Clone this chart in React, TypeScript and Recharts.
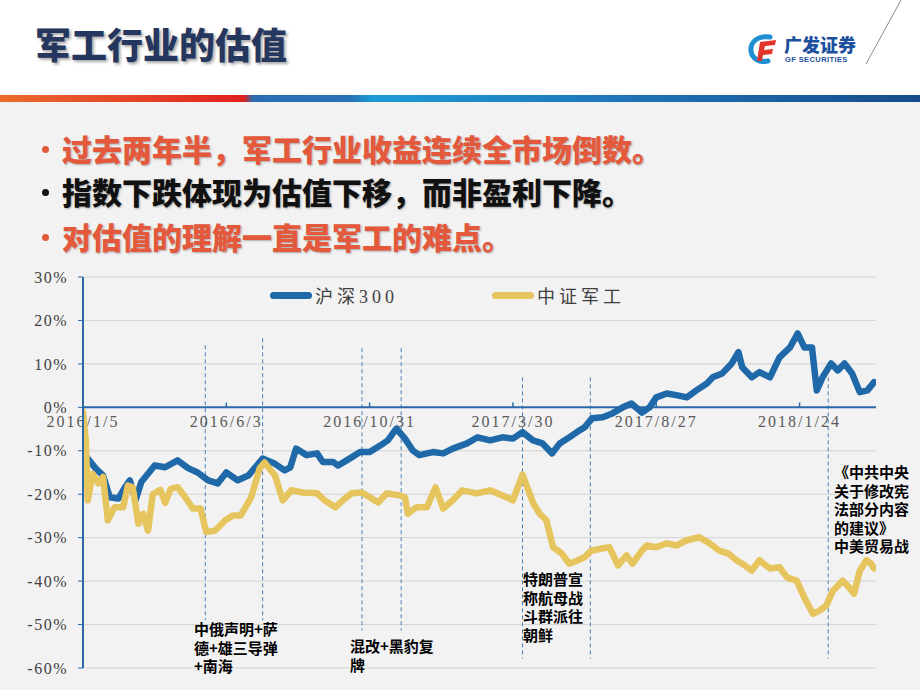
import React from "react";
import {
  LineChart,
  Line,
  XAxis,
  YAxis,
  CartesianGrid,
  ReferenceLine,
  Legend,
} from "recharts";

// days counted from 2016/1/5, values in %
const hs300Days = [0, 2, 13, 21, 28, 37, 44, 49, 55, 61, 75, 86, 99, 110, 120, 131, 141, 150, 162, 173, 188, 201, 211, 217, 223, 234, 245, 251, 262, 267, 279, 290, 300, 311, 319, 328, 337, 345, 352, 366, 377, 387, 402, 413, 426, 439, 450, 460, 471, 481, 491, 499, 507, 517, 525, 533, 544, 554, 565, 574, 585, 593, 600, 611, 621, 632, 642, 653, 659, 669, 679, 686, 690, 700, 708, 719, 729, 740, 748, 755, 763, 768, 774, 783, 790, 797, 805, 813, 821, 828];
const hs300Values = [-2, -11, -14, -15.7, -20.7, -21, -18.4, -16.8, -21.4, -17.2, -13.4, -13.8, -12.2, -14, -15, -16.8, -17.5, -15, -16.8, -15.7, -11.8, -13, -14.5, -13.8, -9.5, -11, -10.6, -12.6, -12.6, -13.4, -11.8, -10.3, -10.3, -8.8, -7.6, -4.9, -7.2, -9.9, -11, -10.3, -10.6, -9.5, -8.3, -6.9, -7.6, -6.9, -7.2, -5.7, -7.6, -8.3, -10.6, -8.3, -7.2, -5.7, -4.6, -2.5, -2.3, -1.4, 0, 0.9, -1.2, 0, 2.3, 3.2, 2.8, 2.3, 3.9, 5.5, 6.9, 7.8, 10.1, 12.7, 9.2, 6.9, 8.1, 6.9, 11.5, 13.8, 17, 13.8, 13.8, 3.9, 6.9, 10.1, 8.5, 10.1, 7.8, 3.5, 3.9, 5.8];

const jgDays = [0, 3, 5, 10, 16, 21, 26, 33, 42, 47, 52, 58, 63, 68, 73, 81, 86, 92, 99, 107, 115, 123, 129, 138, 149, 157, 165, 176, 185, 190, 201, 209, 218, 230, 245, 253, 264, 272, 281, 292, 300, 309, 318, 332, 337, 340, 349, 360, 369, 377, 387, 397, 412, 426, 439, 450, 460, 465, 471, 478, 485, 492, 501, 509, 518, 525, 532, 543, 551, 560, 569, 575, 585, 590, 600, 611, 621, 632, 645, 656, 666, 675, 684, 690, 700, 708, 719, 729, 737, 747, 755, 764, 771, 778, 785, 795, 802, 807, 813, 820, 825, 828];
const jgValues = [-1, -8, -21.4, -15.3, -17.5, -16, -26, -23, -23, -18, -18.4, -26.8, -24.5, -28.4, -20, -19, -22, -18.7, -18.4, -20.7, -23.3, -23.3, -28.7, -28.4, -26, -24.9, -24.9, -20.7, -14, -12.7, -15.7, -21.4, -19.1, -19.6, -19.8, -21.4, -23, -21.4, -19.8, -19.6, -20.7, -21.9, -19.8, -20.3, -20.7, -24.5, -23, -23, -18.4, -23.3, -21.4, -19.1, -19.8, -19.1, -20.3, -21.4, -15.5, -18.4, -22, -24.5, -26, -32.2, -33.6, -36, -35.2, -34.5, -33, -32.5, -32.2, -36.4, -34.1, -36, -33, -31.8, -32.2, -31.3, -31.8, -30.6, -29.9, -31.3, -33, -33.6, -35.2, -36, -37.6, -35.2, -37.1, -36.8, -39.2, -39.9, -43.8, -47.5, -46.8, -45.6, -42.2, -39.9, -41.5, -42.9, -37.6, -35.2, -36, -37.1];

const seriesNames = ["沪深300", "中证军工"];
const yTicks = [-60, -50, -40, -30, -20, -10, 0, 10, 20, 30];
const xTickDays = [0, 150, 300, 450, 600, 750];

// event marker lines: day, top %, bottom %
const eventDays = [128, 188, 292, 333, 460, 531, 780];
const eventTop = [14.3, 15.9, 13.6, 13.6, 6.9, 6.9, 6.9];
const eventBottom = [-49, -49, -51.4, -51.4, -57.8, -57.8, -57.8];

const eventNotes = [
  ["中俄声明+萨", "德+雄三导弹", "+南海"],
  ["混改+黑豹复", "牌"],
  ["特朗普宣", "称航母战", "斗群派往", "朝鲜"],
  ["《中共中央", "关于修改宪", "法部分内容", "的建议》", "中美贸易战"],
];

const bullets = [
  "过去两年半，军工行业收益连续全市场倒数。",
  "指数下跌体现为估值下移，而非盈利下降。",
  "对估值的理解一直是军工的难点。",
];

const hs300Data = hs300Days.map((d, i) => ({ day: d, v: hs300Values[i] }));
const jgData = jgDays.map((d, i) => ({ day: d, v: jgValues[i] }));

const BLUE = "#1f69a9";
const GOLD = "#e6c55f";
const AXIS = "#2b6aa6";
const RED = "#e4583b";
const CJK = "'Noto Sans CJK SC', 'Noto Sans', sans-serif";
const SERIF = "'Liberation Serif', 'Noto Sans CJK SC', serif";

function dayLabel(d: number) {
  const dt = new Date(2016, 0, 5 + d);
  return `${dt.getFullYear()}/${dt.getMonth() + 1}/${dt.getDate()}`;
}

const XTickLabel = ({ viewBox, value }: any) => {
  const { x, y, width, height } = viewBox;
  return (
    <text
      x={x + width / 2}
      y={y + height + 20}
      textAnchor="middle"
      fill="#595959"
      fontSize={16}
      fontFamily={SERIF}
      letterSpacing={2}
    >
      {value}
    </text>
  );
};

const renderLegend = (props: any) => {
  const items = [...(props.payload || [])].sort(
    (a: any, b: any) => seriesNames.indexOf(a.value) - seriesNames.indexOf(b.value)
  );
  return (
    <div style={{ display: "flex", alignItems: "center", fontFamily: SERIF, fontSize: 18, color: "#404040" }}>
      {items.map((p: any, i: number) => (
        <div key={i} style={{ display: "flex", alignItems: "center", width: i === 0 ? 222 : "auto" }}>
          <span style={{ display: "inline-block", width: 42, height: 7, borderRadius: 4, background: p.color, marginRight: 3 }} />
          <span style={{ letterSpacing: 4 }}>{p.value}</span>
        </div>
      ))}
    </div>
  );
};

const notePos = [
  { left: 194, top: 620 },
  { left: 350, top: 637 },
  { left: 523, top: 570 },
  { left: 834, top: 463 },
];

export default function App() {
  return (
    <div
      style={{
        position: "absolute",
        left: 0,
        top: 0,
        width: 920,
        height: 690,
        background: "#f2f2f2",
        overflow: "hidden",
        fontFamily: CJK,
      }}
    >
      <div style={{ position: "absolute", left: 0, top: 0, width: 920, height: 96, background: "#fff" }} />
      <div
        style={{
          position: "absolute",
          left: 35,
          top: 25,
          fontSize: 36,
          lineHeight: "36px",
          fontWeight: 900,
          color: "#26375f",
          textShadow: "2px 2px 3px rgba(0,0,0,0.35)",
        }}
      >
        军工行业的估值
      </div>

      {/* logo */}
      <svg style={{ position: "absolute", left: 748, top: 34 }} width={32} height={30} viewBox="0 0 32 30">
        <path d="M22 3 C10 1 2 8 3 17 C4 25 12 29 20 27" fill="none" stroke="#1f8fd4" strokeWidth={5} strokeLinecap="round" />
        <path d="M12 8 L28 6 L27 11 L17 12 L16 16 L25 15 L24 20 L15 21 L14 27 L9 27 Z" fill="#e2362b" />
      </svg>
      <div style={{ position: "absolute", left: 784, top: 35, fontSize: 18, lineHeight: "19px", fontWeight: 900, color: "#1c4f9c" }}>
        广发证券
      </div>
      <div
        style={{
          position: "absolute",
          left: 785,
          top: 56,
          fontSize: 7.5,
          lineHeight: "8px",
          fontWeight: 800,
          color: "#1c4f9c",
          fontFamily: "'Liberation Sans', Arial, sans-serif",
          letterSpacing: 0.4,
        }}
      >
        GF SECURITIES
      </div>
      <svg style={{ position: "absolute", left: 860, top: 0 }} width={50} height={70}>
        <line x1={41} y1={0} x2={6} y2={64} stroke="#8a8a8a" strokeWidth={1} />
      </svg>

      <div
        style={{
          position: "absolute",
          left: 0,
          top: 95,
          width: 920,
          height: 7,
          background:
            "linear-gradient(to right, #ea6c2c 0%, #e33a26 18%, #e0201d 26.5%, #2a6db3 27.5%, #2872b6 38%, #1c9bd7 40.5%, #1f78bd 65%, #154c8b 100%)",
        }}
      />

      {bullets.map((b, i) => {
        const color = i === 1 ? "#111" : RED;
        const top = [133, 176, 221][i];
        return (
          <div key={i}>
            <span
              style={{
                position: "absolute",
                left: 42,
                top: top + 13,
                width: 7,
                height: 7,
                borderRadius: 4,
                background: color,
              }}
            />
            <div
              style={{
                position: "absolute",
                left: 62,
                top,
                fontSize: 30,
                lineHeight: "30px",
                fontWeight: 900,
                color,
                whiteSpace: "nowrap",
                textShadow: "1px 1px 2px rgba(0,0,0,0.3)",
              }}
            >
              {b}
            </div>
          </div>
        );
      })}

      <div style={{ position: "absolute", left: 0, top: 260 }}>
        <LineChart width={900} height={430} margin={{ top: 17, right: 24, bottom: 22, left: 0 }}>
          <CartesianGrid horizontal vertical={false} stroke="#d3d3d3" />
          <XAxis dataKey="day" type="number" domain={[0, 830]} hide allowDataOverflow />
          <YAxis
            type="number"
            domain={[-60, 30]}
            ticks={yTicks}
            width={83}
            tickFormatter={(v: number) => `${v}%`}
            axisLine={{ stroke: AXIS, strokeWidth: 2 }}
            tickLine={{ stroke: AXIS }}
            tickSize={5}
            tickMargin={10}
            tick={{ fill: "#404040", fontSize: 16, fontFamily: SERIF, letterSpacing: 1.5 }}
          />
          <Legend
            verticalAlign="middle"
            align="center"
            content={renderLegend}
            wrapperStyle={{ top: 22, left: 270, width: 420 }}
          />
          {eventDays.map((d, i) => (
            <ReferenceLine
              key={`ev${i}`}
              segment={[
                { x: d, y: eventTop[i] },
                { x: d, y: eventBottom[i] },
              ]}
              stroke="#4a80b8"
              strokeWidth={1}
              strokeDasharray="4 3"
            />
          ))}
          <ReferenceLine y={0} stroke={AXIS} strokeWidth={2} />
          {xTickDays.map((d) => (
            <ReferenceLine
              key={`xt${d}`}
              segment={[
                { x: d, y: 0 },
                { x: d, y: 1.1 },
              ]}
              stroke={AXIS}
              strokeWidth={1.5}
              label={<XTickLabel value={dayLabel(d)} />}
            />
          ))}
          <Line
            data={hs300Data}
            dataKey="v"
            name={seriesNames[0]}
            type="linear"
            stroke={BLUE}
            strokeWidth={6.5}
            strokeLinejoin="round"
            strokeLinecap="round"
            dot={false}
            isAnimationActive={false}
          />
          <Line
            data={jgData}
            dataKey="v"
            name={seriesNames[1]}
            type="linear"
            stroke={GOLD}
            strokeWidth={6.5}
            strokeLinejoin="round"
            strokeLinecap="round"
            dot={false}
            isAnimationActive={false}
          />
        </LineChart>
      </div>

      {eventNotes.map((lines, i) => (
        <div
          key={i}
          style={{
            position: "absolute",
            left: notePos[i].left,
            top: notePos[i].top,
            fontSize: 15,
            lineHeight: "18.5px",
            fontWeight: 700,
            color: "#000",
            whiteSpace: "nowrap",
          }}
        >
          {lines.map((l, j) => (
            <div key={j}>{l}</div>
          ))}
        </div>
      ))}
    </div>
  );
}
